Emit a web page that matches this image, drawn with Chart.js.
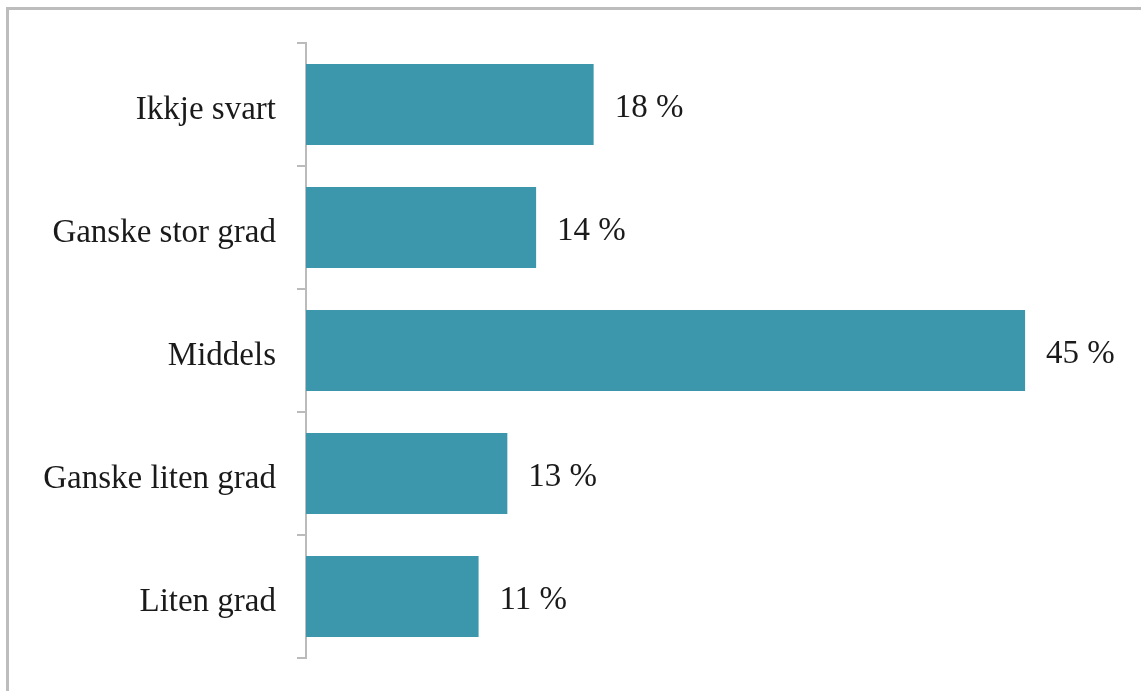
<!DOCTYPE html>
<html>
<head>
<meta charset="utf-8">
<script src="https://cdn.jsdelivr.net/npm/chart.js@4/dist/chart.umd.min.js"></script>
<style>
  html, body { margin: 0; padding: 0; background: #fff; overflow: hidden; }
  #ramme {
    position: absolute; left: 6px; top: 7px; width: 1200px; height: 760px;
    border-top: 3px solid #bdbdbd; border-left: 3px solid #bdbdbd;
  }
  #wrap { position: absolute; left: 0; top: 0; width: 1141px; height: 691px; }
</style>
</head>
<body>
<div id="ramme"></div>
<div id="wrap"><canvas id="graf"></canvas></div>
<script>
// Svarkategoriar og prosentdelar (lest av figuren)
const kategoriar = ["Ikkje svart", "Ganske stor grad", "Middels", "Ganske liten grad", "Liten grad"];
const prosent = [18.0, 14.4, 45.0, 12.6, 10.8];
const etikettar = ["18 %", "14 %", "45 %", "13 %", "11 %"];

const skrift = "'Liberation Serif', 'Times New Roman', serif";

// Skriv prosenttal til høgre for kvar søyle
const verdiEtikettar = {
  id: "verdiEtikettar",
  afterDatasetsDraw(chart) {
    const ctx = chart.ctx;
    const meta = chart.getDatasetMeta(0);
    ctx.save();
    ctx.font = "33px " + skrift;
    ctx.fillStyle = "#1a1a1a";
    ctx.textAlign = "left";
    ctx.textBaseline = "middle";
    meta.data.forEach((bar, i) => {
      ctx.fillText(etikettar[i], bar.x + 21, bar.y + 4);
    });
    ctx.restore();
  }
};

new Chart(document.getElementById("graf"), {
  type: "bar",
  data: {
    labels: kategoriar,
    datasets: [{
      data: prosent,
      backgroundColor: "#3c96ac",
      borderWidth: 0,
      categoryPercentage: 1,
      barPercentage: 0.66
    }]
  },
  options: {
    indexAxis: "y",
    responsive: true,
    maintainAspectRatio: false,
    animation: false,
    layout: { padding: { left: 0, right: 36, top: 43, bottom: 33 } },
    plugins: { legend: { display: false }, tooltip: { enabled: false } },
    scales: {
      x: { display: false, min: 0, max: 50 },
      y: {
        afterFit(s) { s.width = 306; s.paddingTop = 0; s.paddingBottom = 0; },
        border: { display: true, color: "#bbb", width: 2 },
        grid: { drawOnChartArea: false, drawTicks: true, tickLength: 9, color: "#bbb", lineWidth: 2, offset: true },
        ticks: { color: "#1a1a1a", padding: 21, labelOffset: 6, font: { family: skrift, size: 33 } }
      }
    }
  },
  plugins: [verdiEtikettar]
});
</script>
</body>
</html>
